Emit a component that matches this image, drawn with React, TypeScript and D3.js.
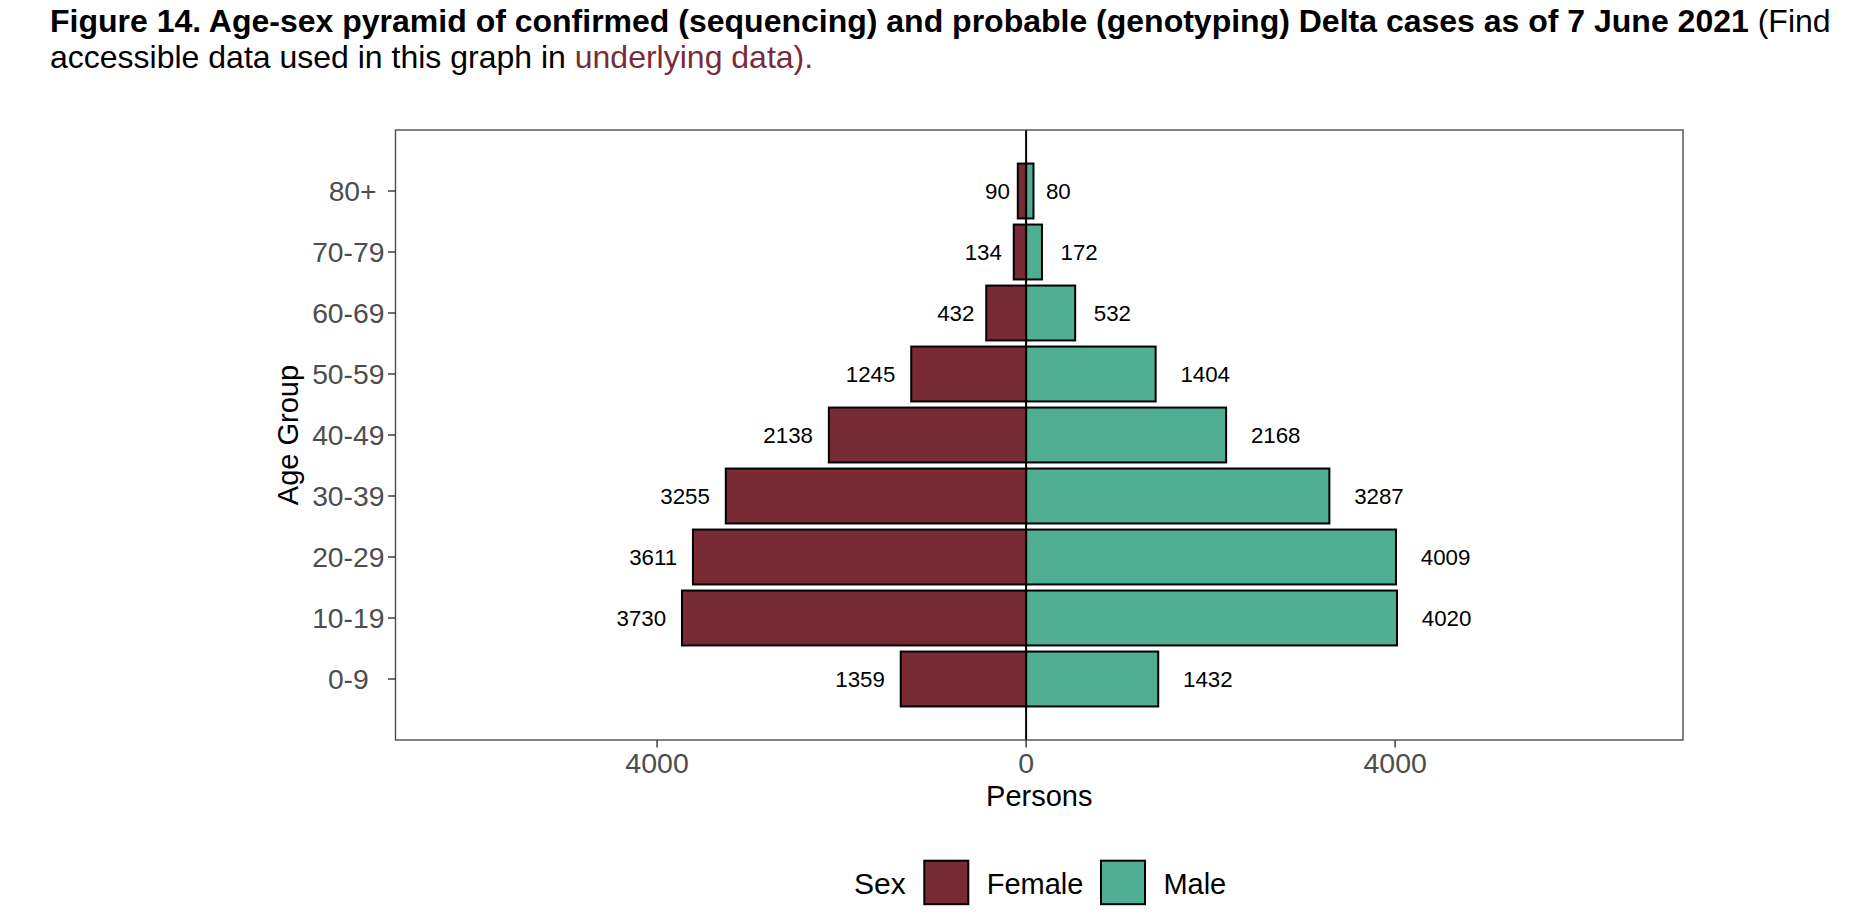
import React, { useEffect } from "react";
import * as d3 from "d3";

const ageGroups = ["0-9", "10-19", "20-29", "30-39", "40-49", "50-59", "60-69", "70-79", "80+"];
const ageTickLabels = ["0-9  ", "10-19", "20-29", "30-39", "40-49", "50-59", "60-69", "70-79", "80+ "];
const femaleCases = [1359, 3730, 3611, 3255, 2138, 1245, 432, 134, 90];
const maleCases = [1432, 4020, 4009, 3287, 2168, 1404, 532, 172, 80];
const xTickValues = [-4000, 0, 4000];
const xTickLabels = ["4000", "0", "4000"];
const sexLabels = ["Female", "Male"];
const sexColors = ["#782A35", "#50AE93"];

const W = 1862;
const H = 916;
const panel = { left: 395.5, right: 1683, top: 130, bottom: 740 };
const FONT = "'Liberation Sans', Arial, Helvetica, sans-serif";

export default function App() {
  useEffect(() => {
    document.body.style.margin = "0";
  }, []);

  const x = d3.scaleLinear().domain([-6835, 7120]).range([panel.left, panel.right]);
  const y = d3.scaleLinear().domain([0, ageGroups.length + 1]).range([panel.bottom, panel.top]);
  const barH = Math.abs(y(0.9) - y(0));
  const labelFs = 22.3;
  const textW = (s: string) => s.length * 0.556 * labelFs;

  return (
    <svg width={W} height={H} style={{ display: "block", fontFamily: FONT }}>
      <rect x={0} y={0} width={W} height={H} fill="#fff" />
      {/* Title */}
      <text x={50} y={32} fontSize={32} fill="#000">
        <tspan fontWeight="bold">
          Figure 14. Age-sex pyramid of confirmed (sequencing) and probable (genotyping) Delta cases as of 7 June 2021
        </tspan>
        <tspan> (Find</tspan>
      </text>
      <text x={50} y={68} fontSize={32} fill="#000">
        <tspan>accessible data used in this graph in </tspan>
        <tspan fill="#7A2B38">underlying data).</tspan>
      </text>

      {/* Panel background */}
      <rect x={panel.left} y={panel.top} width={panel.right - panel.left} height={panel.bottom - panel.top} fill="#fff" />

      {/* Bars */}
      {ageGroups.map((g, i) => {
        const cy = y(i + 1);
        const f = femaleCases[i];
        const m = maleCases[i];
        return (
          <g key={g}>
            <rect x={x(-f)} y={cy - barH / 2} width={x(0) - x(-f)} height={barH} fill={sexColors[0]} stroke="#000" strokeWidth={2} />
            <rect x={x(0)} y={cy - barH / 2} width={x(m) - x(0)} height={barH} fill={sexColors[1]} stroke="#000" strokeWidth={2} />
          </g>
        );
      })}

      {/* Zero line */}
      <line x1={x(0)} x2={x(0)} y1={panel.top} y2={panel.bottom} stroke="#000" strokeWidth={2} />

      {/* Value labels */}
      {ageGroups.map((g, i) => {
        const cy = y(i + 1);
        const fs = String(femaleCases[i]);
        const ms = String(maleCases[i]);
        return (
          <g key={"l" + g} fontSize={labelFs} fill="#000">
            <text x={x(-femaleCases[i]) - 0.32 * textW(fs)} y={cy} dy="0.36em" textAnchor="end">{fs}</text>
            <text x={x(maleCases[i]) + 0.5 * textW(ms)} y={cy} dy="0.36em" textAnchor="start">{ms}</text>
          </g>
        );
      })}

      {/* Panel border */}
      <rect x={panel.left} y={panel.top} width={panel.right - panel.left} height={panel.bottom - panel.top} fill="none" stroke="#4D4D4D" strokeWidth={1.4} />

      {/* Y axis ticks & labels */}
      {ageTickLabels.map((lab, i) => (
        <g key={"yt" + i}>
          <line x1={panel.left - 7.5} x2={panel.left} y1={y(i + 1)} y2={y(i + 1)} stroke="#333" strokeWidth={1.4} />
          <text x={panel.left - 11} y={y(i + 1)} dy="0.36em" textAnchor="end" fontSize={28.3} fill="#4D4D4D" style={{ whiteSpace: "pre" }}>{lab}</text>
        </g>
      ))}

      {/* X axis ticks & labels */}
      {xTickValues.map((v, i) => (
        <g key={"xt" + i}>
          <line x1={x(v)} x2={x(v)} y1={panel.bottom} y2={panel.bottom + 7.5} stroke="#333" strokeWidth={1.4} />
          <text x={x(v)} y={773} textAnchor="middle" fontSize={28.5} fill="#4D4D4D">{xTickLabels[i]}</text>
        </g>
      ))}

      {/* Axis titles */}
      <text x={(panel.left + panel.right) / 2} y={806} textAnchor="middle" fontSize={29} fill="#000">Persons</text>
      <text transform={`translate(298, ${(panel.top + panel.bottom) / 2}) rotate(-90)`} textAnchor="middle" fontSize={29} fill="#000">Age Group</text>

      {/* Legend */}
      <text x={854} y={894} fontSize={30} fill="#000">Sex</text>
      {sexLabels.map((s, i) => {
        const kx = i === 0 ? 924.3 : 1101;
        return (
          <g key={s}>
            <rect x={kx} y={860.7} width={44} height={43.5} fill={sexColors[i]} stroke="#000" strokeWidth={2} />
            <text x={kx + 62.4} y={894} fontSize={29} fill="#000">{s}</text>
          </g>
        );
      })}
    </svg>
  );
}
